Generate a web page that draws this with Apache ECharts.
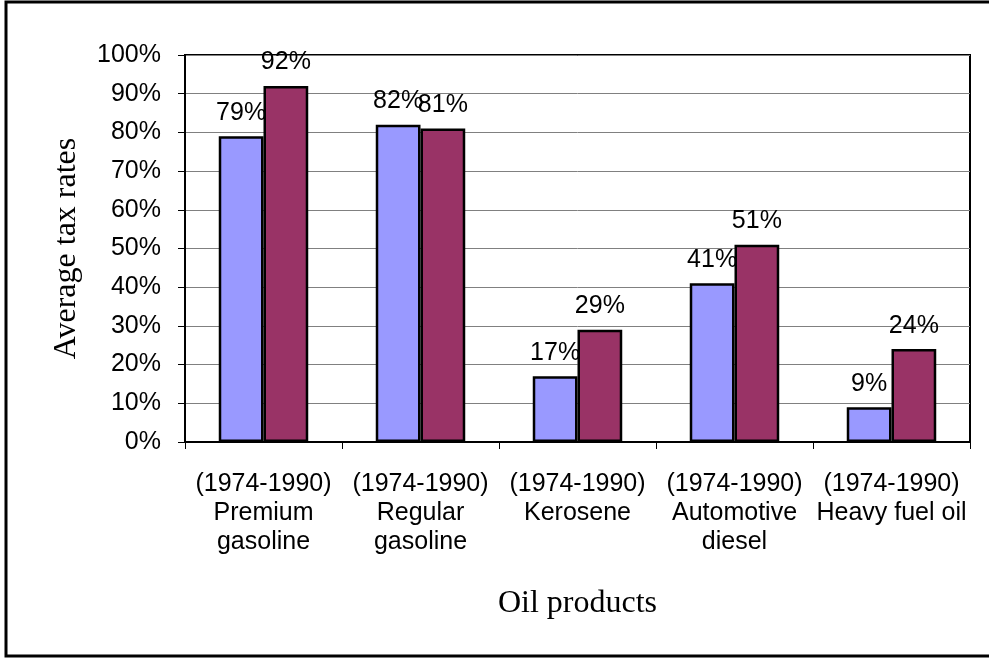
<!DOCTYPE html>
<html>
<head>
<meta charset="utf-8">
<script src="https://cdn.jsdelivr.net/npm/echarts@6/dist/echarts.min.js"></script>
<style>html,body{margin:0;padding:0;background:#fff;}#c{width:989px;height:659px;}</style>
</head>
<body>
<div id="c"></div>
<script>
var categories = [
  "(1974-1990)\nPremium\ngasoline",
  "(1974-1990)\nRegular\ngasoline",
  "(1974-1990)\nKerosene",
  "(1974-1990)\nAutomotive\ndiesel",
  "(1974-1990)\nHeavy fuel oil"
];
var series1974 = [79, 82, 17, 41, 9];
var series1990 = [92, 81, 29, 51, 24];
var yTicks = [0, 10, 20, 30, 40, 50, 60, 70, 80, 90, 100];

var sans = "'Liberation Sans', Arial, sans-serif";
var serif = "'Liberation Serif', 'Times New Roman', serif";

var chart = echarts.init(document.getElementById('c'), null, {renderer: 'canvas'});
var labelCfg = {
  show: true, position: 'top', distance: 11,
  formatter: function (p) { return p.value + '%'; },
  fontFamily: sans, fontSize: 25, color: '#000'
};
chart.setOption({
  animation: false,
  backgroundColor: '#fff',
  graphic: [{
    type: 'rect', z: 100,
    shape: {x: 6, y: 2, width: 995, height: 654},
    style: {fill: 'none', stroke: '#000', lineWidth: 3}
  }],
  grid: {
    left: 185, right: 19, top: 55, bottom: 217,
    show: true, borderColor: '#000', borderWidth: 2, backgroundColor: 'transparent'
  },
  xAxis: {
    type: 'category',
    data: categories,
    name: 'Oil products',
    nameLocation: 'middle',
    nameGap: 146,
    nameTextStyle: {fontFamily: serif, fontSize: 32, color: '#000'},
    axisLine: {lineStyle: {color: '#000', width: 2}},
    axisTick: {show: true, length: 7, lineStyle: {color: '#000', width: 1}},
    axisLabel: {
      interval: 0, margin: 28, fontFamily: sans, fontSize: 25, color: '#000',
      lineHeight: 29
    }
  },
  yAxis: {
    type: 'value',
    min: yTicks[0], max: yTicks[yTicks.length - 1], interval: 10,
    name: 'Average tax rates',
    nameLocation: 'middle',
    nameGap: 102,
    nameTextStyle: {fontFamily: serif, fontSize: 32, color: '#000'},
    axisLine: {show: true, lineStyle: {color: '#000', width: 2}},
    axisTick: {show: true, length: 7, lineStyle: {color: '#000', width: 1}},
    axisLabel: {
      margin: 24, fontFamily: sans, fontSize: 25, color: '#000',
      formatter: function (v) { return v + '%'; }
    },
    splitLine: {show: true, lineStyle: {color: '#808080', width: 1}}
  },
  series: [
    {
      name: '1974', type: 'bar', data: series1974,
      barGap: '0%', barCategoryGap: '43%',
      itemStyle: {color: '#9999FF', borderColor: '#000', borderWidth: 2.5},
      label: labelCfg
    },
    {
      name: '1990', type: 'bar', data: series1990,
      barGap: '0%', barCategoryGap: '43%',
      itemStyle: {color: '#993366', borderColor: '#000', borderWidth: 2.5},
      label: labelCfg
    }
  ]
});
</script>
</body>
</html>
